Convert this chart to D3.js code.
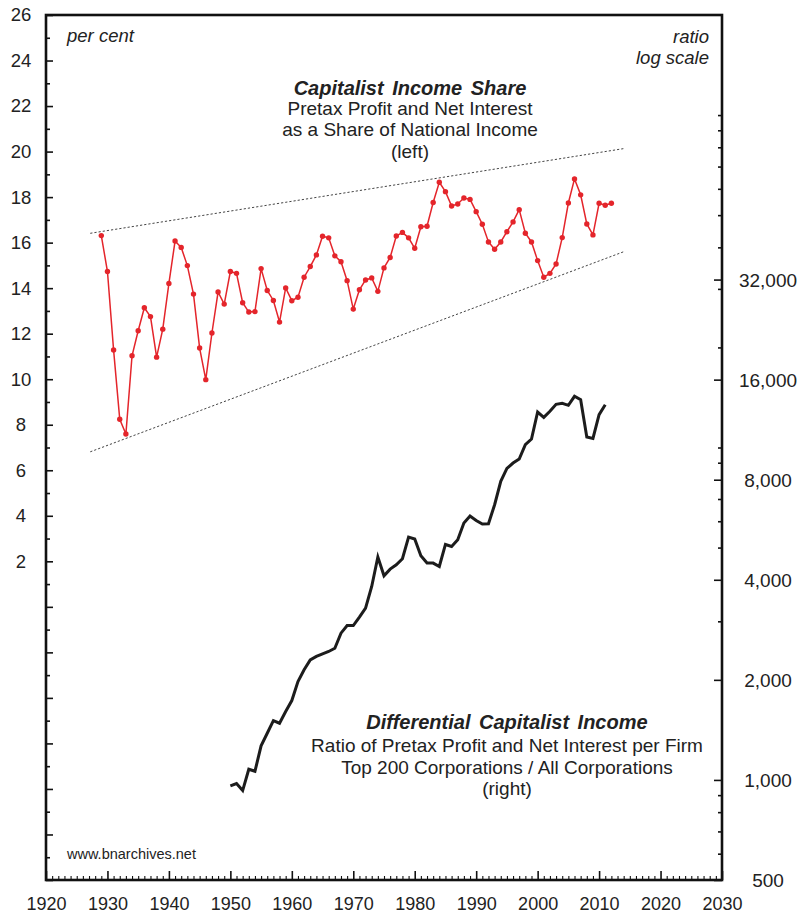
<!DOCTYPE html>
<html>
<head>
<meta charset="utf-8">
<script src="https://cdn.jsdelivr.net/npm/d3@7"></script>
<style>
  html, body { margin: 0; padding: 0; background: #fff; }
  svg { display: block; font-family: "Liberation Sans", Arial, Helvetica, sans-serif; }
</style>
</head>
<body>
<svg id="chart" width="800" height="917"></svg>
<script>
// ---------------- DATA ----------------
const shareYears = [
  1929,1930,1931,1932,1933,1934,1935,1936,1937,1938,
  1939,1940,1941,1942,1943,1944,1945,1946,1947,1948,
  1949,1950,1951,1952,1953,1954,1955,1956,1957,1958,
  1959,1960,1961,1962,1963,1964,1965,1966,1967,1968,
  1969,1970,1971,1972,1973,1974,1975,1976,1977,1978,
  1979,1980,1981,1982,1983,1984,1985,1986,1987,1988,
  1989,1990,1991,1992,1993,1994,1995,1996,1997,1998,
  1999,2000,2001,2002,2003,2004,2005,2006,2007,2008,
  2009,2010,2011,2012
];
const shareValues = [
  16.31,14.73,11.28,8.24,7.59,11.03,12.13,13.14,12.75,10.97,
  12.20,14.21,16.07,15.79,14.99,13.74,11.37,9.98,12.03,13.83,
  13.30,14.73,14.65,13.36,12.95,12.97,14.86,13.90,13.46,12.51,
  14.01,13.45,13.60,14.48,14.95,15.46,16.28,16.21,15.42,15.16,
  14.33,13.08,13.93,14.36,14.45,13.86,14.89,15.35,16.29,16.45,
  16.21,15.75,16.70,16.72,17.76,18.65,18.24,17.61,17.70,17.96,
  17.90,17.36,16.81,16.03,15.71,16.03,16.48,16.91,17.45,16.41,
  16.03,15.21,14.48,14.65,15.06,16.22,17.74,18.80,18.10,16.82,
  16.34,17.73,17.64,17.73
];
const diffYears = [
  1950,1951,1952,1953,1954,1955,1956,1957,1958,1959,
  1960,1961,1962,1963,1964,1965,1966,1967,1968,1969,
  1970,1971,1972,1973,1974,1975,1976,1977,1978,1979,
  1980,1981,1982,1983,1984,1985,1986,1987,1988,1989,
  1990,1991,1992,1993,1994,1995,1996,1997,1998,1999,
  2000,2001,2002,2003,2004,2005,2006,2007,2008,2009,
  2010,2011
];
const diffValues = [
  959,975,929,1077,1062,1266,1382,1508,1481,1606,
  1733,1977,2144,2297,2352,2395,2434,2490,2764,2914,
  2914,3088,3287,3818,4682,4112,4307,4438,4627,5378,
  5304,4724,4491,4491,4387,5109,5039,5278,5925,6221,
  6033,5884,5897,6727,7908,8654,8980,9234,10197,10606,
  12788,12323,12847,13484,13580,13393,14257,13929,10753,10653,
  12552,13454
];
// dotted channel (trend envelope) on the left scale
const channelYears = [1927.2, 2014.0];
const channelUpper = [16.41, 20.13];
const channelLower = [6.81, 15.60];

// tick values / labels
const xMajorTicks = [1920,1930,1940,1950,1960,1970,1980,1990,2000,2010,2020,2030];
const leftMajorTicks = [-12,-10,-8,-6,-4,-2,0,2,4,6,8,10,12,14,16,18,20,22,24,26];
const leftMinorTicks = [-11,-9,-7,-5,-3,-1,1,3,5,7,9,11,13,15,17,19,21,23,25];
const leftLabelMin = 2;
const rightMajorTicks = [500,1000,2000,4000,8000,16000,32000];
const rightMinorTicks = [600,700,800,900,3000,5000,6000,7000,9000,10000,20000,30000,
                         40000,50000,60000,70000,80000,90000,100000];

// ---------------- LAYOUT ----------------
const L = 46, T = 15, R = 722, B = 880;
const svg = d3.select("#chart");

const x = d3.scaleLinear().domain([1920, 2030]).range([L, R]);
const yL = d3.scaleLinear().domain([-12, 26]).range([B, T]);
const yR = d3.scaleLog().domain([500, 200000]).range([B, T]);

const font = '"Liberation Sans", Arial, Helvetica, sans-serif';

// ---------------- AXES ----------------
function styleAxis(g) {
  g.select(".domain").remove();
  g.selectAll(".tick line").attr("stroke", "#111").attr("stroke-width", 1.6);
  g.selectAll(".tick text").attr("fill", "#222").style("font-family", font);
}

// bottom minor (years)
const yearMinor = [];
for (let yv = 1921; yv < 2030; yv++) if (yv % 10 !== 0) yearMinor.push(yv);
svg.append("g").attr("transform", `translate(0,${B})`)
  .call(d3.axisBottom(x).tickValues(yearMinor).tickSize(-4).tickFormat(""))
  .call(styleAxis)
  .call(g => g.selectAll(".tick line").attr("stroke-width", 1.1));
// bottom major
svg.append("g").attr("transform", `translate(0,${B})`)
  .call(d3.axisBottom(x).tickValues(xMajorTicks).tickSize(-9).tickPadding(17).tickFormat(d3.format("d")))
  .call(styleAxis)
  .call(g => g.selectAll(".tick text").style("font-size", "18px"));

// left minor
svg.append("g").attr("transform", `translate(${L},0)`)
  .call(d3.axisLeft(yL).tickValues(leftMinorTicks).tickSize(-4).tickFormat(""))
  .call(styleAxis);
// left major
svg.append("g").attr("transform", `translate(${L},0)`)
  .call(d3.axisLeft(yL).tickValues(leftMajorTicks).tickSize(-7).tickPadding(25)
        .tickFormat(d => d >= leftLabelMin ? d : ""))
  .call(styleAxis)
  .call(g => g.selectAll(".tick text").attr("text-anchor", "middle").style("font-size", "18.5px"));

// right minor
svg.append("g").attr("transform", `translate(${R},0)`)
  .call(d3.axisRight(yR).tickValues(rightMinorTicks).tickSize(-4).tickFormat(""))
  .call(styleAxis);
// right major
svg.append("g").attr("transform", `translate(${R},0)`)
  .call(d3.axisRight(yR).tickValues(rightMajorTicks).tickSize(-8).tickPadding(46)
        .tickFormat(d3.format(",")))
  .call(styleAxis)
  .call(g => g.selectAll(".tick text").attr("text-anchor", "middle").attr("dy", "0.36em").style("font-size", "19px"));

// frame
svg.append("rect").attr("x", L).attr("y", T).attr("width", R - L).attr("height", B - T)
  .attr("fill", "none").attr("stroke", "#111").attr("stroke-width", 2.6);

// ---------------- CHANNEL ----------------
const chLine = d3.line().x(d => x(d[0])).y(d => yL(d[1]));
[channelUpper, channelLower].forEach(arr => {
  svg.append("path")
    .datum(channelYears.map((yr, i) => [yr, arr[i]]))
    .attr("d", chLine)
    .attr("fill", "none")
    .attr("stroke", "#444")
    .attr("stroke-width", 1)
    .attr("stroke-dasharray", "2.2,2");
});

// ---------------- RED SERIES ----------------
const shareData = shareYears.map((yr, i) => [yr, shareValues[i]]);
svg.append("path")
  .datum(shareData)
  .attr("d", d3.line().x(d => x(d[0])).y(d => yL(d[1])))
  .attr("fill", "none")
  .attr("stroke", "#e4252b")
  .attr("stroke-width", 1.5);
svg.append("g").selectAll("circle")
  .data(shareData).join("circle")
  .attr("cx", d => x(d[0])).attr("cy", d => yL(d[1]))
  .attr("r", 2.7).attr("fill", "#e4252b");

// ---------------- BLACK SERIES ----------------
const diffData = diffYears.map((yr, i) => [yr, diffValues[i]]);
svg.append("path")
  .datum(diffData)
  .attr("d", d3.line().x(d => x(d[0])).y(d => yR(d[1])))
  .attr("fill", "none")
  .attr("stroke", "#1c1c1c")
  .attr("stroke-width", 3)
  .attr("stroke-linejoin", "miter");

// ---------------- TEXT ----------------
function txt(s, xx, yy, opts = {}) {
  return svg.append("text").text(s)
    .attr("x", xx).attr("y", yy)
    .attr("text-anchor", opts.anchor || "start")
    .style("font-family", font)
    .style("font-size", (opts.size || 17) + "px")
    .style("font-style", opts.italic ? "italic" : "normal")
    .style("font-weight", opts.bold ? "bold" : "normal")
    .style("word-spacing", opts.ws || "0px")
    .attr("fill", opts.fill || "#222");
}
txt("per cent", 67, 42, {italic: true, size: 18.5});
txt("ratio", 709, 43, {italic: true, size: 18.5, anchor: "end"});
txt("log scale", 709, 64, {italic: true, size: 18.5, anchor: "end"});

txt("Capitalist Income Share", 410, 95, {italic: true, bold: true, size: 20, anchor: "middle", ws: "3px"});
txt("Pretax Profit and Net Interest", 410, 115, {size: 19, anchor: "middle"});
txt("as a Share of National Income", 410, 136, {size: 19, anchor: "middle"});
txt("(left)", 410, 158, {size: 19, anchor: "middle"});

txt("Differential Capitalist Income", 507, 729, {italic: true, bold: true, size: 20, anchor: "middle", ws: "3px"});
txt("Ratio of Pretax Profit and Net Interest per Firm", 507, 752, {size: 19, anchor: "middle"});
txt("Top 200 Corporations / All Corporations", 507, 774, {size: 19, anchor: "middle"});
txt("(right)", 507, 795, {size: 19, anchor: "middle"});

txt("www.bnarchives.net", 67, 859, {size: 14.5});
</script>
</body>
</html>
